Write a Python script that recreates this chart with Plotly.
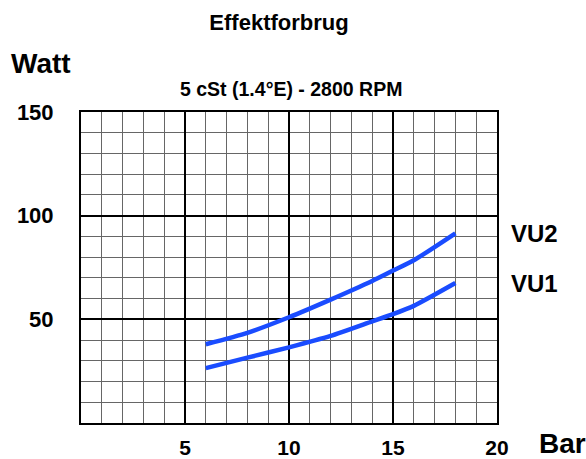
import plotly.graph_objects as go

# Data
pressure_bar = [6, 8, 10, 12, 14, 15, 16, 18]
vu2_watt = [38, 43.5, 51, 59.5, 68.5, 73.5, 78.5, 91.5]
vu1_watt = [26.5, 31.5, 36.5, 42, 49, 52.5, 56.5, 67.5]
series_names = ["VU1", "VU2"]
x_tick_vals = [5, 10, 15, 20]
x_tick_text = ["5", "10", "15", "20"]
y_tick_vals = [50, 100, 150]
y_tick_text = ["50", "100", "150"]

title_text = "Effektforbrug"
subtitle_text = "5 cSt (1.4°E) - 2800 RPM"
y_unit = "Watt"
x_unit = "Bar"

FONT = "Liberation Sans, Arial, sans-serif"
BLUE = "#1a4cff"

W, H = 586, 459
L, R, T, B = 81, 89, 112, 36
pw, ph = W - L - R, H - T - B

def px(x):
    return (x - L) / pw

def py(y):
    return 1 - (y - T) / ph

fig = go.Figure()
for name, vals in zip(series_names, [vu1_watt, vu2_watt]):
    fig.add_trace(go.Scatter(
        x=pressure_bar, y=vals, mode="lines", name=name,
        line=dict(color=BLUE, width=4.5, shape="spline", smoothing=0.6),
        showlegend=False,
    ))

for name, vals in zip(series_names, [vu1_watt, vu2_watt]):
    fig.add_annotation(x=px(509), y=vals[-1], xref="paper", yref="y", text="<b>%s</b>" % name,
                       showarrow=False, xanchor="left", yanchor="middle",
                       font=dict(family=FONT, size=24, color="black"))

fig.add_annotation(x=px(9), y=py(63), xref="paper", yref="paper", text="<b>%s</b>" % y_unit,
                   showarrow=False, xanchor="left", yanchor="middle",
                   font=dict(family=FONT, size=28, color="black"))
fig.add_annotation(x=px(537), y=py(443), xref="paper", yref="paper", text="<b>%s</b>" % x_unit,
                   showarrow=False, xanchor="left", yanchor="middle",
                   font=dict(family=FONT, size=28, color="black"))
fig.add_annotation(x=px(291), y=py(89), xref="paper", yref="paper", text="<b>%s</b>" % subtitle_text,
                   showarrow=False, xanchor="center", yanchor="middle",
                   font=dict(family=FONT, size=19.5, color="black"))

fig.update_layout(
    width=W, height=H,
    margin=dict(l=L, r=R, t=T, b=B, autoexpand=False),
    paper_bgcolor="white", plot_bgcolor="white",
    title=dict(text="<b>%s</b>" % title_text, x=279 / W, xanchor="center",
               y=1 - 22 / H, yanchor="middle",
               font=dict(family=FONT, size=22, color="black")),
    font=dict(family=FONT, color="black"),
)
fig.update_xaxes(
    range=[0, 20], tickvals=x_tick_vals, ticktext=["<b>%s</b>" % t for t in x_tick_text],
    tickfont=dict(family=FONT, size=21, color="black"), ticklabelstandoff=5,
    showgrid=True, gridcolor="black", gridwidth=2,
    minor=dict(dtick=1, tick0=0, showgrid=True, gridcolor="#666666", gridwidth=1),
    showline=True, linecolor="black", linewidth=2, mirror=True, zeroline=False,
    ticks="", fixedrange=True, automargin=False,
)
fig.update_yaxes(
    range=[0, 150], tickvals=y_tick_vals, ticktext=["<b>%s</b>" % t for t in y_tick_text],
    tickfont=dict(family=FONT, size=22, color="black"), ticklabelstandoff=21,
    showgrid=True, gridcolor="black", gridwidth=2,
    minor=dict(dtick=10, tick0=0, showgrid=True, gridcolor="#666666", gridwidth=1),
    showline=True, linecolor="black", linewidth=2, mirror=True, zeroline=False,
    ticks="", fixedrange=True, automargin=False,
)

fig.write_html("out.html", config={"displayModeBar": False},
               post_script="document.body.style.margin='0';document.body.style.overflow='hidden';")
